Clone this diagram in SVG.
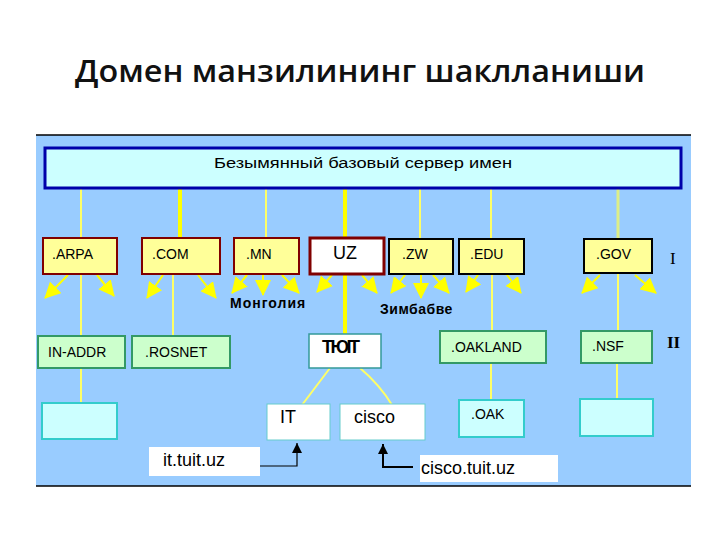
<svg xmlns="http://www.w3.org/2000/svg" width="720" height="540" viewBox="0 0 720 540">
<defs>
<marker id="ya" markerUnits="userSpaceOnUse" markerWidth="16" markerHeight="16" refX="15" refY="8" orient="auto" viewBox="0 0 16 16">
<path d="M0,0 L16,8 L0,16 z" fill="#FFFF00"/>
</marker>
<marker id="ba" markerUnits="userSpaceOnUse" markerWidth="10" markerHeight="10" refX="10" refY="5" orient="auto" viewBox="0 0 10 10">
<path d="M0,0 L10,5 L0,10 z" fill="#000"/>
</marker>
<style>
.t{font-family:"Liberation Sans",Arial,sans-serif;font-size:14px;fill:#000}
.b{font-family:"Liberation Sans",Arial,sans-serif;font-size:18px;fill:#000}
.y1{fill:#FFFF99;stroke:#800000;stroke-width:2}
.y2{fill:#FFFF99;stroke:#000;stroke-width:2}
.g{fill:#CCFFCC;stroke:#339966;stroke-width:2}
.c{fill:#CCFFFF;stroke:#33CCCC;stroke-width:2}
.w{fill:#FFFFFF;stroke:#66CCCC;stroke-width:1}
.ln{stroke:#FFFF66;stroke-width:2;fill:none}
.lk{stroke:#FFFF00;stroke-width:4;fill:none}
.ar{stroke:#FFFF00;stroke-width:2;fill:none;marker-end:url(#ya)}
.rn{font-family:"Liberation Serif","Times New Roman",serif;font-size:17px;fill:#000}
</style>
</defs>
<rect width="720" height="540" fill="#FFFFFF"/>
<text x="360" y="82" text-anchor="middle" font-family="'Open Sans','Noto Sans',sans-serif" font-size="31" font-weight="600" fill="#111" textLength="570" lengthAdjust="spacingAndGlyphs">Домен манзилининг шаклланиши</text>
<rect x="36" y="135" width="655" height="351" fill="#99CCFF"/>
<line x1="36" y1="135" x2="691" y2="135" stroke="#000" stroke-width="1.5"/>
<line x1="36" y1="486" x2="691" y2="486" stroke="#000" stroke-width="1.5"/>
<g id="connectors">
<line class="ln" x1="81" y1="188" x2="81" y2="238"/>
<line class="lk" x1="180" y1="188" x2="180" y2="238"/>
<line class="ln" x1="266" y1="188" x2="266" y2="238"/>
<line class="lk" x1="345" y1="188" x2="345" y2="238"/>
<line class="ln" x1="420" y1="188" x2="420" y2="238"/>
<line class="ln" x1="491" y1="188" x2="491" y2="238"/>
<line x1="618" y1="188" x2="618" y2="238" stroke="#DDEE88" stroke-width="3"/>
<line class="ln" x1="81" y1="274" x2="81" y2="336"/>
<line class="ln" x1="81" y1="368" x2="81" y2="403"/>
<line class="ln" x1="173" y1="274" x2="173" y2="336"/>
<line class="lk" x1="345" y1="274" x2="345" y2="334"/>
<line class="ln" x1="492" y1="274" x2="492" y2="331"/>
<line class="ln" x1="491" y1="363" x2="491" y2="400"/>
<line class="ln" x1="618" y1="274" x2="618" y2="331"/>
<line class="ln" x1="617" y1="363" x2="617" y2="399"/>
<path class="ln" d="M330,368 L302,405" stroke-width="3"/>
<path class="ln" d="M360,368 Q380,385 392,405" stroke-width="3"/>
<line class="ar" x1="68" y1="275" x2="45" y2="298"/>
<line class="ar" x1="97" y1="275" x2="114" y2="296"/>
<line class="ar" x1="163" y1="275" x2="147" y2="298"/>
<line class="ar" x1="198" y1="275" x2="216" y2="298"/>
<line class="ar" x1="247" y1="275" x2="232" y2="293"/>
<line class="ar" x1="263" y1="275" x2="263" y2="295"/>
<line class="ar" x1="282" y1="275" x2="299" y2="293"/>
<line class="ar" x1="332" y1="275" x2="317" y2="292"/>
<line class="ar" x1="362" y1="275" x2="377" y2="293"/>
<line class="ar" x1="405" y1="275" x2="391" y2="293"/>
<line class="ar" x1="421" y1="275" x2="421" y2="298"/>
<line class="ar" x1="433" y1="275" x2="449" y2="293"/>
<line class="ar" x1="478" y1="275" x2="466" y2="292"/>
<line class="ar" x1="507" y1="275" x2="521" y2="293"/>
<line class="ar" x1="600" y1="275" x2="582" y2="293"/>
<line class="ar" x1="635" y1="275" x2="656" y2="293"/>
<path d="M260,466 L297,466 L297,443" stroke="#000" stroke-width="1.2" fill="none" marker-end="url(#ba)"/>
<path d="M413,467 L383,467 L383,444" stroke="#000" stroke-width="2" fill="none" marker-end="url(#ba)"/>
</g>
<g id="root">
<rect x="45" y="148" width="636" height="40" fill="#CCFFFF" stroke="#0000AA" stroke-width="3"/>
<text class="t" x="363" y="168" text-anchor="middle" font-size="15" textLength="298" lengthAdjust="spacingAndGlyphs">Безымянный базовый сервер имен</text>
</g>
<g id="arpa"><rect class="y1" x="43" y="238" width="74" height="36"/><text class="t" x="52" y="259">.ARPA</text></g>
<g id="com"><rect class="y1" x="142" y="238" width="78" height="36" stroke-width="3"/><text class="t" x="152" y="259">.COM</text></g>
<g id="mn"><rect class="y1" x="234" y="238" width="65" height="36"/><text class="t" x="246" y="259">.MN</text></g>
<g id="uz"><rect x="310" y="238" width="74" height="36" fill="#FFFFFF" stroke="#800000" stroke-width="3"/><text class="b" x="333" y="259">UZ</text></g>
<g id="zw"><rect class="y2" x="389" y="239" width="64" height="35"/><text class="t" x="402" y="259">.ZW</text></g>
<g id="edu"><rect class="y2" x="459" y="239" width="65" height="35"/><text class="t" x="470" y="259">.EDU</text></g>
<g id="gov"><rect class="y2" x="584" y="239" width="68" height="34" stroke-width="3"/><text class="t" x="596" y="259">.GOV</text></g>
<g id="mongolia"><text class="t" x="230" y="308" font-size="12" font-weight="bold" letter-spacing="1">Монголия</text></g>
<g id="zimbabwe"><text class="t" x="380" y="314" font-size="12" font-weight="bold" letter-spacing="0.5">Зимбабве</text></g>
<g id="inaddr"><rect class="g" x="38" y="336" width="87" height="32"/><text class="t" x="48" y="357">IN-ADDR</text></g>
<g id="rosnet"><rect class="g" x="132" y="336" width="98" height="32"/><text class="t" x="145" y="357">.ROSNET</text></g>
<g id="tuit"><rect x="309" y="334" width="72" height="34" fill="#FFFFFF" stroke="#339999" stroke-width="1.5"/><text class="b" x="322" y="353" font-weight="bold" letter-spacing="-2.5">ТЮIT</text></g>
<g id="oakland"><rect class="g" x="440" y="331" width="106" height="32"/><text class="t" x="451" y="352">.OAKLAND</text></g>
<g id="nsf"><rect class="g" x="581" y="331" width="71" height="32"/><text class="t" x="592" y="351">.NSF</text></g>
<text class="rn" x="670" y="264">I</text>
<text class="rn" x="667" y="348" font-weight="bold">II</text>
<g id="leaf1"><rect class="c" x="42" y="403" width="75" height="36"/></g>
<g id="it"><rect class="w" x="267" y="404" width="63" height="36"/><text class="b" x="280" y="423">IT</text></g>
<g id="cisco"><rect class="w" x="340" y="404" width="85" height="36"/><text class="b" x="354" y="423">cisco</text></g>
<g id="oak"><rect class="c" x="459" y="400" width="65" height="37" stroke-width="1.5"/><text class="t" x="471" y="419">.OAK</text></g>
<g id="leaf2"><rect class="c" x="580" y="399" width="73" height="37"/></g>
<g id="ittuituz"><rect x="149" y="447" width="111" height="29" fill="#FFFFFF"/><text class="b" x="163" y="466">it.tuit.uz</text></g>
<g id="ciscotuituz"><rect x="420" y="455" width="138" height="27" fill="#FFFFFF"/><text class="b" x="421" y="474">cisco.tuit.uz</text></g>
</svg>
